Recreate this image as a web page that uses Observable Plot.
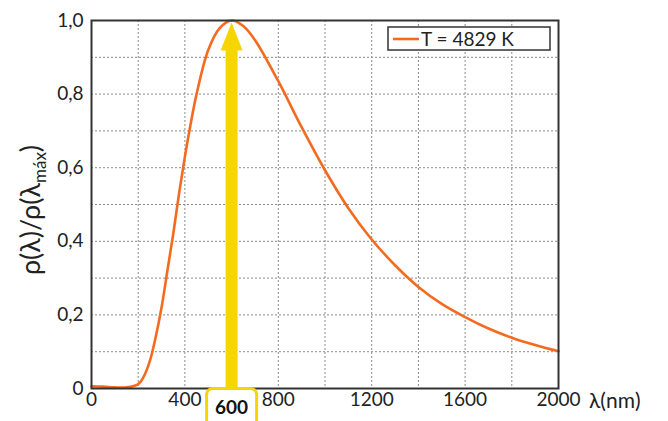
<!DOCTYPE html>
<html>
<head>
<meta charset="utf-8">
<script src="https://cdn.jsdelivr.net/npm/d3@7"></script>
<script src="https://cdn.jsdelivr.net/npm/@observablehq/plot@0.6"></script>
<style>
  html, body { margin: 0; padding: 0; background: #fff; }
  #chart { width: 668px; height: 421px; overflow: hidden; }
</style>
</head>
<body>
<div id="chart"></div>
<script>
// Data
const wavelengthNm = [0, 50, 100, 150, 200, 225, 250, 275, 300, 325, 350, 375, 400, 425, 450, 500, 550, 600, 650, 700, 800, 900, 1000, 1100, 1200, 1300, 1400, 1500, 1600, 1700, 1800, 1900, 2000];
const relRadiance  = [0.006, 0.005, 0.003, 0.003, 0.012, 0.034, 0.075, 0.14, 0.22, 0.32, 0.42, 0.53, 0.63, 0.72, 0.80, 0.92, 0.98, 1.0, 0.985, 0.947, 0.835, 0.71, 0.593, 0.49, 0.405, 0.335, 0.276, 0.23, 0.194, 0.163, 0.138, 0.118, 0.101];
const xTicks = [0, 400, 800, 1200, 1600, 2000];
const yTicks = [0, 0.2, 0.4, 0.6, 0.8, 1.0];
const xGrid = [0, 200, 400, 600, 800, 1000, 1200, 1400, 1600, 1800, 2000];
const yGrid = [0, 0.1, 0.2, 0.3, 0.4, 0.5, 0.6, 0.7, 0.8, 0.9, 1.0];
const peakWavelength = 600;
const peakValue = 1.0;
const seriesLabel = "T = 4829 K";

const data = wavelengthNm.map((w, i) => ({w, r: relRadiance[i]}));

const orange = "#f36b20";
const yellow = "#f6d500";
const font = "Lato, 'Open Sans', sans-serif";

const headSymbol = {
  draw(ctx) {
    ctx.moveTo(0, -14);
    ctx.lineTo(11, 14);
    ctx.lineTo(-11, 14);
    ctx.closePath();
  }
};
const boxSymbol = {
  draw(ctx) {
    const w = 25, h = 22, r = 6;
    ctx.moveTo(-w + r, -h);
    ctx.lineTo(w - r, -h);
    ctx.arcTo(w, -h, w, -h + r, r);
    ctx.lineTo(w, h - r);
    ctx.arcTo(w, h, w - r, h, r);
    ctx.lineTo(-w + r, h);
    ctx.arcTo(-w, h, -w, h - r, r);
    ctx.lineTo(-w, -h + r);
    ctx.arcTo(-w, -h, -w + r, -h, r);
    ctx.closePath();
  }
};

const chart = Plot.plot({
  width: 668,
  height: 421,
  marginLeft: 91,
  marginRight: 110,
  marginTop: 20,
  marginBottom: 33,
  style: {fontFamily: font, fontSize: "18px", color: "#222", background: "#fff"},
  x: {domain: [0, 2000]},
  y: {domain: [0, 1]},
  marks: [
    Plot.gridX(xGrid, {stroke: "#8a8a8a", strokeOpacity: 1, strokeDasharray: "2,2", strokeWidth: 1}),
    Plot.gridY(yGrid, {stroke: "#8a8a8a", strokeOpacity: 1, strokeDasharray: "2,2", strokeWidth: 1}),
    Plot.axisX(xTicks, {tickSize: 0, tickPadding: 4, label: null, fontSize: 19, fill: "#222",
      tickFormat: d => String(d)}),
    Plot.axisY(yTicks, {tickSize: 0, tickPadding: 8, label: null, fontSize: 19, fill: "#222",
      tickFormat: d => d === 0 ? "0" : d.toFixed(1).replace(".", ",")}),
    // yellow arrow marking the peak
    Plot.ruleX([peakWavelength], {y1: 0, y2: peakValue * 0.93, stroke: yellow, strokeWidth: 12}),
    Plot.dot([{w: peakWavelength, r: peakValue}], {x: "w", y: "r", dy: 16, symbol: headSymbol, r: 10, fill: yellow, stroke: "none"}),
    Plot.line(data, {x: "w", y: "r", stroke: orange, strokeWidth: 2.6, curve: "catmull-rom"}),
    Plot.frame({stroke: "#333", strokeWidth: 2}),
    // highlighted peak label
    Plot.dot([{w: peakWavelength, r: 0}], {x: "w", y: "r", dy: 22, symbol: boxSymbol, r: 10, fill: "#fff", stroke: yellow, strokeWidth: 3}),
    Plot.text([{w: peakWavelength, r: 0, t: String(peakWavelength)}], {x: "w", y: "r", text: "t", dy: 19, fontSize: 19, fontWeight: "bold", fill: "#111"})
  ]
});

const svg = d3.select(chart);
// Y axis label with subscript
const yl = svg.append("text")
  .attr("transform", "translate(40,210) rotate(-90)")
  .attr("text-anchor", "middle")
  .attr("font-family", font)
  .attr("font-size", 27)
  .attr("fill", "#222");
yl.append("tspan").text("ρ(λ)/ρ(λ");
yl.append("tspan").attr("font-size", 17).attr("dy", 6).text("máx");
yl.append("tspan").attr("dy", -6).text(")");

// X axis unit label
svg.append("text")
  .attr("x", 589).attr("y", 408)
  .attr("text-anchor", "start")
  .attr("font-family", font).attr("font-size", 21).attr("fill", "#222")
  .text("λ(nm)");

// Legend
const lg = svg.append("g");
lg.append("rect").attr("x", 388).attr("y", 27).attr("width", 162).attr("height", 23)
  .attr("fill", "#fff").attr("stroke", "#333").attr("stroke-width", 1.5);
lg.append("line").attr("x1", 393).attr("x2", 419).attr("y1", 39).attr("y2", 39)
  .attr("stroke", orange).attr("stroke-width", 2.6);
lg.append("text").attr("x", 421).attr("y", 46)
  .attr("text-anchor", "start")
  .attr("font-family", font).attr("font-size", 19).attr("fill", "#222")
  .text(seriesLabel);

document.getElementById("chart").appendChild(chart);
</script>
</body>
</html>
